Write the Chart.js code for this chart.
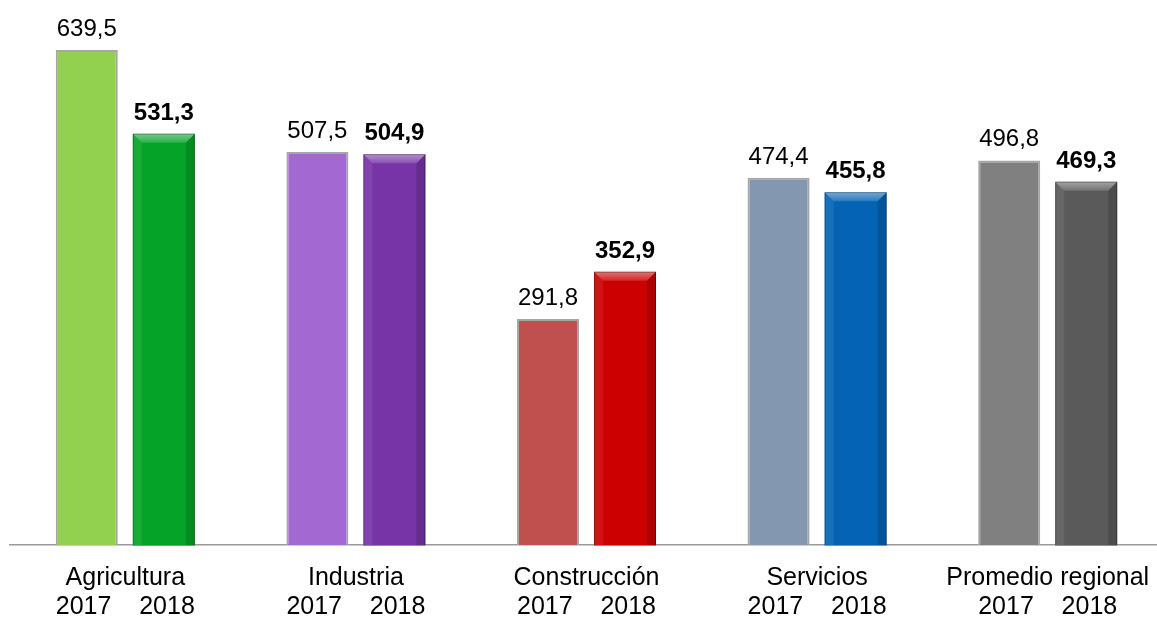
<!DOCTYPE html>
<html>
<head>
<meta charset="utf-8">
<script src="https://cdn.jsdelivr.net/npm/chart.js@4"></script>
<style>
  html, body { margin: 0; padding: 0; background: #fff; overflow: hidden; }
  #wrap { width: 1157px; height: 619px; overflow: hidden; }
</style>
</head>
<body>
<div id="wrap"><canvas id="chart" width="1163" height="619"></canvas></div>
<script>
// --- datos ---
const categories = ['Agricultura', 'Industria', 'Construcción', 'Servicios', 'Promedio regional'];
const yearLabels = ['2017', '2018'];
const values2017 = [639.5, 507.5, 291.8, 474.4, 496.8];
const values2018 = [531.3, 504.9, 352.9, 455.8, 469.3];

const colors2017 = ['#92d050', '#a468d3', '#c0504d', '#8497b0', '#808080'];
const colors2018 = ['#05a428', '#7734a6', '#cc0000', '#0563b5', '#5a5a5a'];

const FONT = '"Liberation Sans", Arial, sans-serif';
const fmt = v => v.toFixed(1).replace('.', ',');

// etiquetas encima de cada barra
const valueLabels = {
    id: 'valueLabels',
    afterDatasetsDraw(chart) {
        const ctx = chart.ctx;
        ctx.save();
        ctx.textAlign = 'center';
        ctx.textBaseline = 'alphabetic';
        ctx.fillStyle = '#000';
        chart.data.datasets.forEach((ds, di) => {
            const meta = chart.getDatasetMeta(di);
            ctx.font = (di === 1 ? 'bold ' : '') + '24px ' + FONT;
            meta.data.forEach((bar, i) => {
                ctx.fillText(fmt(ds.data[i]), bar.x, bar.y - 14);
            });
        });
        ctx.restore();
    }
};

// efecto biselado para las barras 2018
const bevel = {
    id: 'bevel',
    afterDatasetsDraw(chart) {
        const ctx = chart.ctx;
        const meta = chart.getDatasetMeta(1);
        const b = 9;
        ctx.save();
        meta.data.forEach(bar => {
            const l = bar.x - bar.width / 2, r = bar.x + bar.width / 2;
            const t = bar.y, btm = bar.base;
            // arriba (claro)
            const g = ctx.createLinearGradient(0, t, 0, t + b);
            g.addColorStop(0, 'rgba(255,255,255,0.45)');
            g.addColorStop(1, 'rgba(255,255,255,0.15)');
            ctx.fillStyle = g;
            ctx.beginPath();
            ctx.moveTo(l, t); ctx.lineTo(r, t); ctx.lineTo(r - b, t + b); ctx.lineTo(l + b, t + b);
            ctx.closePath(); ctx.fill();
            // izquierda
            ctx.fillStyle = 'rgba(255,255,255,0.08)';
            ctx.beginPath();
            ctx.moveTo(l, t); ctx.lineTo(l + b, t + b); ctx.lineTo(l + b, btm); ctx.lineTo(l, btm);
            ctx.closePath(); ctx.fill();
            // derecha (oscuro)
            ctx.fillStyle = 'rgba(0,0,0,0.15)';
            ctx.beginPath();
            ctx.moveTo(r, t); ctx.lineTo(r - b, t + b); ctx.lineTo(r - b, btm); ctx.lineTo(r, btm);
            ctx.closePath(); ctx.fill();
            // borde
            ctx.strokeStyle = 'rgba(0,0,0,0.3)';
            ctx.lineWidth = 1;
            ctx.strokeRect(l + 0.5, t + 0.5, r - l - 1, btm - t);
        });
        ctx.restore();
    }
};

const ctx = document.getElementById('chart').getContext('2d');
new Chart(ctx, {
    type: 'bar',
    data: {
        labels: categories,
        datasets: [
            {
                label: yearLabels[0],
                data: values2017,
                backgroundColor: colors2017,
                borderColor: '#a6a6a6',
                borderWidth: 2,
                borderSkipped: 'bottom',
                categoryPercentage: 0.668,
                barPercentage: 0.805
            },
            {
                label: yearLabels[1],
                data: values2018,
                backgroundColor: colors2018,
                borderWidth: 0,
                categoryPercentage: 0.668,
                barPercentage: 0.805
            }
        ]
    },
    options: {
        responsive: false,
        animation: false,
        layout: { padding: { left: 10, right: 0, top: 0, bottom: 0 } },
        plugins: { legend: { display: false }, tooltip: { enabled: false } },
        scales: {
            y: { display: false, min: 0, max: 704 },
            x: {
                grid: { display: false, drawTicks: false },
                border: { display: true, color: '#9a9a9a', width: 1.5 },
                ticks: {
                    color: '#000',
                    padding: 18,
                    font: { family: FONT, size: 25, lineHeight: 1.18 },
                    maxRotation: 0,
                    autoSkip: false,
                    callback: (v, i) => [categories[i], yearLabels[0] + '    ' + yearLabels[1]]
                },
                afterFit: scale => {
                    scale.height = 74;
                    scale.paddingLeft = 0;
                    scale.paddingRight = 0;
                }
            }
        }
    },
    plugins: [bevel, valueLabels]
});
</script>
</body>
</html>
